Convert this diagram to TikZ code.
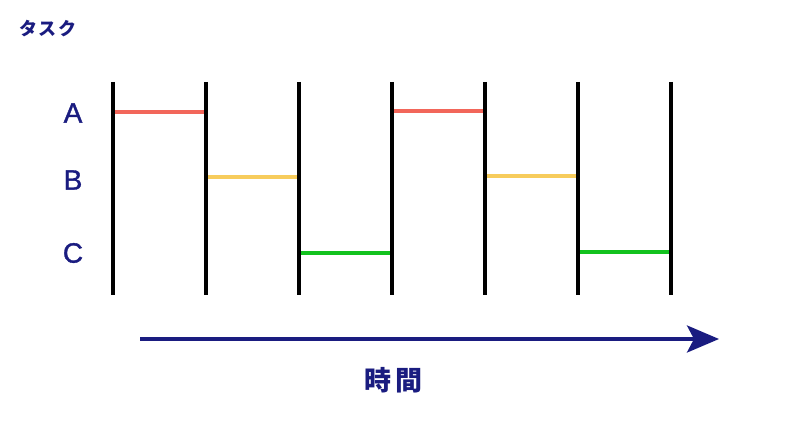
\documentclass[tikz,border=0pt]{standalone}
\usepackage{fontspec}
\setmainfont{Liberation Sans}
\newfontfamily\lblfont[FakeBold=1.2]{Liberation Sans}
\newfontfamily\jpfont{Noto Sans CJK JP}
\usetikzlibrary{arrows.meta}
\definecolor{navy}{HTML}{1A1C80}
\definecolor{barA}{HTML}{F2665A}
\definecolor{barB}{HTML}{F7CC5C}
\definecolor{barC}{HTML}{12C21E}
\begin{document}
\begin{tikzpicture}[x=1pt,y=-1pt,
  vline/.style={line width=4pt,black},
  bar/.style={line width=3.5pt},
  lbl/.style={text=navy,font=\lblfont\fontsize{28}{30}\selectfont},
  ]
\useasboundingbox (0,0) rectangle (800,422);
\fill[white] (0,0) rectangle (800,422);
% vertical lines
\foreach \i/\x in {1/113,2/206,3/299,4/392,5/485,6/578,7/671}{
  \coordinate (t\i) at (\x,82);
  \coordinate (b\i) at (\x,295);
  \draw[vline] (t\i) -- (b\i);
}
% bars
\coordinate (a1s) at (115,112); \coordinate (a1e) at (204,112);
\coordinate (b1s) at (208,177); \coordinate (b1e) at (297,177);
\coordinate (c1s) at (301,253); \coordinate (c1e) at (390,253);
\coordinate (a2s) at (394,111); \coordinate (a2e) at (483,111);
\coordinate (b2s) at (487,176); \coordinate (b2e) at (576,176);
\coordinate (c2s) at (580,252); \coordinate (c2e) at (669,252);
\draw[bar,barA] (a1s) -- (a1e);
\draw[bar,barB] (b1s) -- (b1e);
\draw[bar,barC] (c1s) -- (c1e);
\draw[bar,barA] (a2s) -- (a2e);
\draw[bar,barB] (b2s) -- (b2e);
\draw[bar,barC] (c2s) -- (c2e);
% labels
\node[text=navy,font=\jpfont\bfseries\fontsize{18}{20}\selectfont] (task) at (48,29) {タ\hspace{2pt}ス\hspace{2pt}ク};
\node[lbl] (la) at (73,113) {A};
\node[lbl] (lb) at (73,180) {B};
\node[lbl] (lc) at (73,253) {C};
% arrow
\coordinate (ts) at (140,339);
\coordinate (te) at (719,339);
\draw[navy,line width=3.5pt,-{Stealth[length=32pt,width=27pt,inset=7pt]}] (ts) -- (te);
\node[text=navy,font=\jpfont\bfseries\fontsize{27}{30}\selectfont] (time) at (393,380) {時\hspace{4pt}間};
\end{tikzpicture}
\end{document}
